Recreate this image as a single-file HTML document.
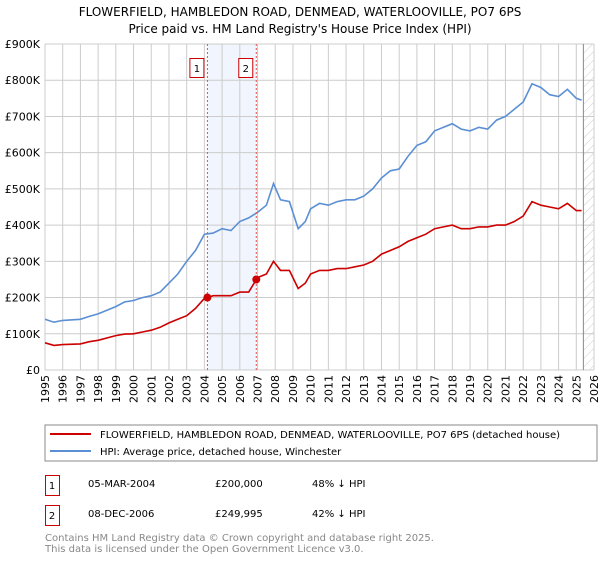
<!DOCTYPE html>
<html><head><meta charset="utf-8"><style>
body{margin:0;background:#fff;width:600px;height:560px;overflow:hidden;font-family:"DejaVu Sans","Liberation Sans",sans-serif}
svg text{font-family:"DejaVu Sans","Liberation Sans",sans-serif}
</style></head><body>
<svg id="c" width="600" height="560">
<text x="300" y="16" text-anchor="middle" font-size="12">FLOWERFIELD, HAMBLEDON ROAD, DENMEAD, WATERLOOVILLE, PO7 6PS</text>
<text x="300" y="33" text-anchor="middle" font-size="12">Price paid vs. HM Land Registry's House Price Index (HPI)</text>
<g id="grid"></g><g id="marks"></g><g id="axes"></g>
<rect x="45" y="425" width="552" height="36" fill="none" stroke="#888"/>
<line x1="50" y1="434" x2="91" y2="434" stroke="#cc0000" stroke-width="2"/>
<text x="100" y="438" font-size="10">FLOWERFIELD, HAMBLEDON ROAD, DENMEAD, WATERLOOVILLE, PO7 6PS (detached house)</text>
<line x1="50" y1="451" x2="91" y2="451" stroke="#5b8fd4" stroke-width="2"/>
<text x="100" y="455" font-size="10">HPI: Average price, detached house, Winchester</text>
<g>
<rect x="45.5" y="475.5" width="14" height="20" fill="none" stroke="#cc0000"/>
<text x="52" y="489" text-anchor="middle" font-size="10">1</text>
<text x="88" y="487" font-size="10">05-MAR-2004</text>
<text x="215" y="487" font-size="10">£200,000</text>
<text x="312" y="487" font-size="10">48% ↓ HPI</text></g>
<g>
<rect x="45.5" y="505.5" width="14" height="20" fill="none" stroke="#cc0000"/>
<text x="52" y="519" text-anchor="middle" font-size="10">2</text>
<text x="88" y="517" font-size="10">08-DEC-2006</text>
<text x="215" y="517" font-size="10">£249,995</text>
<text x="312" y="517" font-size="10">42% ↓ HPI</text></g>
<text x="45" y="541" font-size="10" fill="#888">Contains HM Land Registry data © Crown copyright and database right 2025.</text>
<text x="45" y="552" font-size="10" fill="#888">This data is licensed under the Open Government Licence v3.0.</text>
</svg>
<script>
const years=[1995,1995.5,1996,1997,1997.5,1998,1999,1999.5,2000,2000.5,2001,2001.5,2002,2002.5,2003,2003.5,2004,2004.5,2005,2005.5,2006,2006.5,2007,2007.5,2007.9,2008.3,2008.8,2009.3,2009.7,2010,2010.5,2011,2011.5,2012,2012.5,2013,2013.5,2014,2014.5,2015,2015.5,2016,2016.5,2017,2017.5,2018,2018.5,2019,2019.5,2020,2020.5,2021,2021.5,2022,2022.5,2023,2023.5,2024,2024.5,2025,2025.3];
const hpi=[140,132,137,140,148,155,175,188,192,200,205,215,240,265,300,330,375,378,390,385,410,420,435,455,515,470,465,390,410,445,460,455,465,470,470,480,500,530,550,555,590,620,630,660,670,680,665,660,670,665,690,700,720,740,790,780,760,755,775,750,745];
const prop=[75,68,70,72,78,82,95,99,100,105,110,118,130,140,150,170,198,205,205,205,215,215,255,265,300,275,275,225,240,265,275,275,280,280,285,290,300,320,330,340,355,365,375,390,395,400,390,390,395,395,400,400,410,425,465,455,450,445,460,440,440];
const saleYears=[2004.17,2006.93];
const saleValues=[200,250];
const yTicks=[0,100,200,300,400,500,600,700,800,900];
const yLabels=["£0","£100K","£200K","£300K","£400K","£500K","£600K","£700K","£800K","£900K"];
const xTicks=[1995,1996,1997,1998,1999,2000,2001,2002,2003,2004,2005,2006,2007,2008,2009,2010,2011,2012,2013,2014,2015,2016,2017,2018,2019,2020,2021,2022,2023,2024,2025,2026];
const NS="http://www.w3.org/2000/svg";
const X=y=>45+(y-1995)*(549/31);
const Y=v=>370-v*(326/900);
function mk(t,a,p){const e=document.createElementNS(NS,t);for(const k in a)e.setAttribute(k,a[k]);p.appendChild(e);return e;}
const grid=document.getElementById('grid'),marks=document.getElementById('marks'),axes=document.getElementById('axes');
let band=mk('rect',{x:X(saleYears[0]),y:44,width:X(saleYears[1])-X(saleYears[0]),height:326,fill:'#f1f5fd'},grid);


let defs=mk('defs',{},grid);
let pat=mk('pattern',{id:'h',width:6,height:6,patternUnits:'userSpaceOnUse',patternTransform:'rotate(45)'},defs);
mk('line',{x1:0,y1:0,x2:0,y2:6,stroke:'#ccc','stroke-width':1},pat);
let hatch=mk('rect',{x:X(2025.4),y:44,width:594-X(2025.4),height:326,fill:'url(#h)'},grid);


yTicks.forEach((v,i)=>{
  let l=mk('line',{x1:45,x2:594,y1:Y(v),y2:Y(v),stroke:'#ccc'},grid);
  
  
  let t=mk('text',{x:40,y:Y(v)+4,'text-anchor':'end','font-size':11},axes);
  t.textContent=yLabels[i];
  
  
});
xTicks.forEach(y=>{
  let l=mk('line',{x1:X(y),x2:X(y),y1:44,y2:370,stroke:'#ccc'},grid);
  
  
  const tx=X(y)+4, ty=375;
  let t=mk('text',{x:tx,y:ty,'text-anchor':'end','font-size':11,transform:`rotate(-90 ${tx} ${ty})`},axes);
  t.textContent=y;
  
  
});
let ln=mk('line',{x1:X(2025.4),x2:X(2025.4),y1:44,y2:370,stroke:'#888'},grid);


function path(vals,col,name){
  const d=vals.map((v,i)=>(i?'L':'M')+X(years[i]).toFixed(1)+','+Y(v).toFixed(1)).join('');
  const p=mk('path',{d:d,fill:'none',stroke:col,'stroke-width':1.6},marks);
  
  
}
path(hpi,'#5b8fd4','hpi-line');
path(prop,'#cc0000','property-line');
saleYears.forEach((y,i)=>{
  let v=mk('line',{x1:X(y),x2:X(y),y1:44,y2:370,stroke:'#e05050','stroke-dasharray':'2,2'},marks);
  
  
  let c=mk('circle',{cx:X(y),cy:Y(saleValues[i]),r:4,fill:'#cc0000'},marks);
  
  
  let g=mk('g',{},marks);
  
  
  mk('rect',{x:X(y)-17.5,y:58.5,width:14,height:19,fill:'#fff',stroke:'#cc0000'},g);
  let t=mk('text',{x:X(y)-10.5,y:72,'text-anchor':'middle','font-size':10},g);
  t.textContent=i+1;
});
</script>
</body></html>
